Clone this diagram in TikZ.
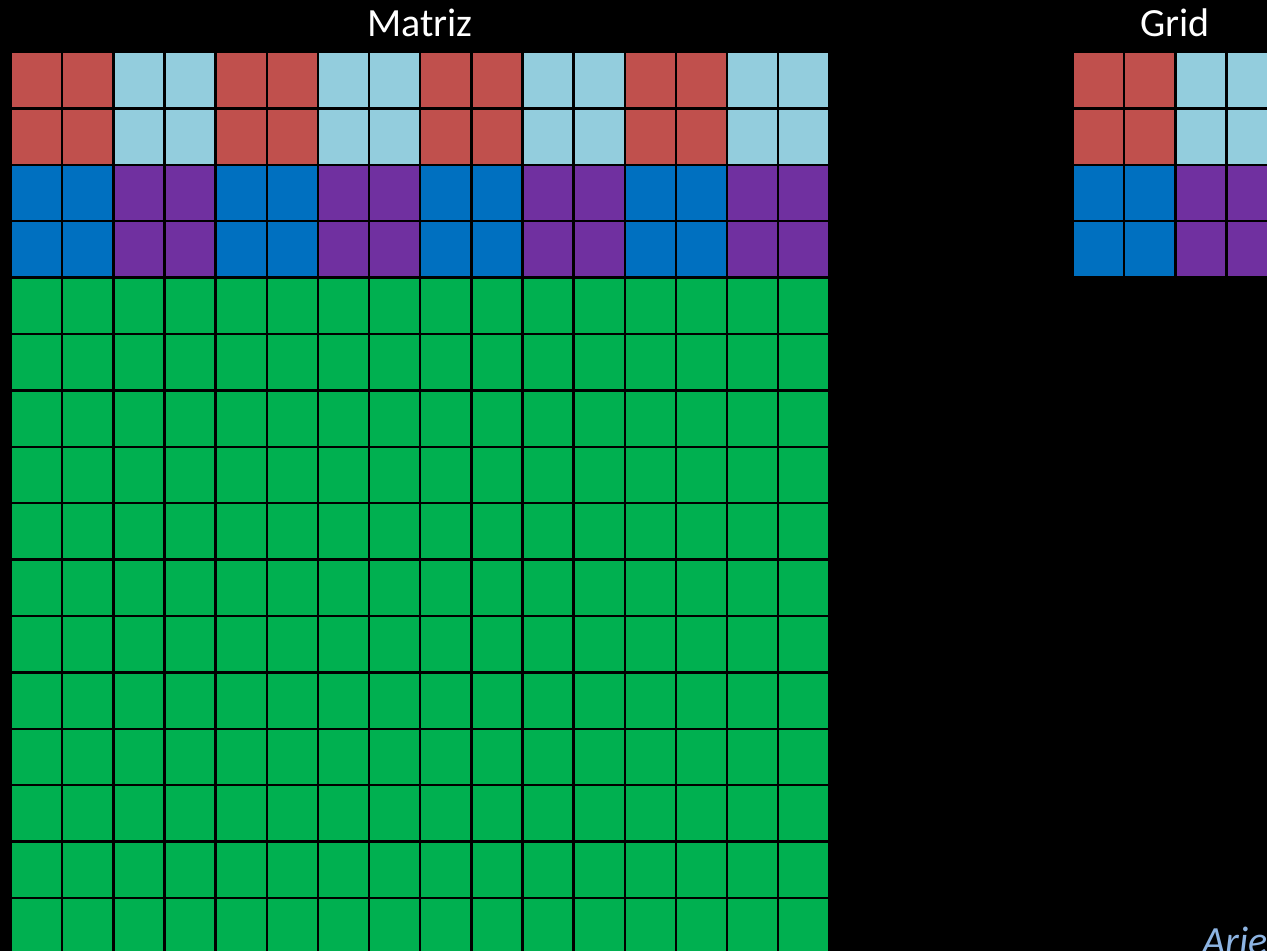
\documentclass[tikz,border=0pt]{standalone}
\usepackage{fontspec}
\setmainfont{Carlito}
\usepackage{tikz}

\definecolor{cellred}{HTML}{C0504D}
\definecolor{celllight}{HTML}{93CDDD}
\definecolor{cellblue}{HTML}{0070C0}
\definecolor{cellpurple}{HTML}{7030A0}
\definecolor{cellgreen}{HTML}{00B050}
\definecolor{signblue}{HTML}{8DB4E2}

\tikzset{
  cell/.style={draw=black,line width=1.2pt},
  title/.style={anchor=base,text=white,font=\fontsize{20}{24}\selectfont}
}

\begin{document}
\begin{tikzpicture}[x=0.5pt,y=-0.5pt]
\useasboundingbox[fill=black] (0,0) rectangle (1267,951);
% the matrix: 16 x 16, each 2x2 block of the top four rows in one colour
\begin{scope}
  \node[title] (matriz) at (420,37) {Matriz};
  \foreach \r in {0,...,15}
    \foreach \c in {0,...,15}{
      \pgfmathtruncatemacro{\blk}{mod(int(\c/2),2)}
      \ifnum\r<2
        \ifnum\blk=0 \def\cc{cellred}\else\def\cc{celllight}\fi
      \else\ifnum\r<4
        \ifnum\blk=0 \def\cc{cellblue}\else\def\cc{cellpurple}\fi
      \else \def\cc{cellgreen}\fi\fi
      \draw[cell,fill=\cc] ({11+\c*51.15},{52+\r*56.4}) rectangle ++(51.15,56.4);
    }
\end{scope}
% the grid: one block per colour
\begin{scope}
  \node[title] (grid) at (1175.3,37) {Grid};
  \foreach \r in {0,...,3}
    \foreach \c in {0,...,3}{
      \ifnum\r<2
        \ifnum\c<2 \def\cc{cellred}\else\def\cc{celllight}\fi
      \else
        \ifnum\c<2 \def\cc{cellblue}\else\def\cc{cellpurple}\fi
      \fi
      \draw[cell,fill=\cc] ({1073+\c*51.15},{52+\r*56.4}) rectangle ++(51.15,56.4);
    }
\end{scope}
\node[anchor=base west,text=signblue,font=\fontsize{20}{24}\selectfont\itshape,inner sep=0pt] (sign) at (1202,954) {Arie};
\end{tikzpicture}
\end{document}
